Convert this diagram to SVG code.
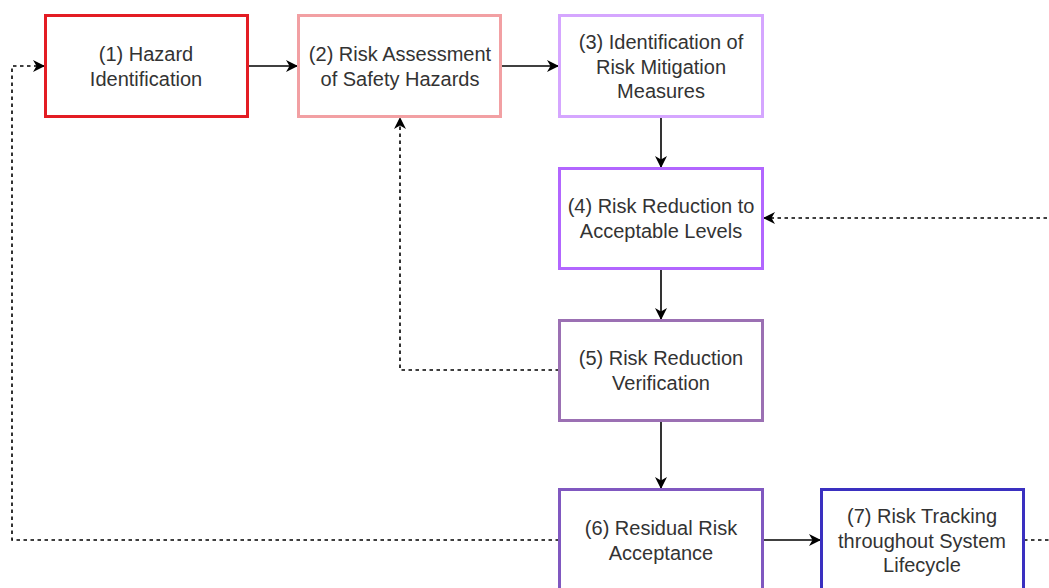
<svg xmlns="http://www.w3.org/2000/svg" width="1049" height="588" viewBox="0 0 1049 588">
<style>
.box{fill:#fff;stroke-width:3}
.t{font-family:"Liberation Sans",Arial,sans-serif;font-size:20px;fill:#333;text-anchor:middle}
.c{fill:none;stroke:#000;stroke-width:1.6}
.d{stroke-dasharray:3.5 3.5}
</style>
<defs>
<marker id="ah" viewBox="0 0 12 12" refX="11" refY="6" markerWidth="12" markerHeight="12" markerUnits="userSpaceOnUse" orient="auto">
<path d="M0,0 L12,6 L0,12 L3.5,6 Z" fill="#000"/>
</marker>
</defs>
<rect width="1049" height="588" fill="#fff"/>
<g id="connectors">
<path class="c" d="M248,66 H297" marker-end="url(#ah)"/>
<path class="c" d="M501,66 H558" marker-end="url(#ah)"/>
<path class="c" d="M661,117 V167" marker-end="url(#ah)"/>
<path class="c" d="M661,269 V319" marker-end="url(#ah)"/>
<path class="c" d="M661,421 V488" marker-end="url(#ah)"/>
<path class="c" d="M763,540 H820" marker-end="url(#ah)"/>
<path class="c d" d="M559,370 H400 V118" marker-end="url(#ah)"/>
<path class="c d" d="M559,540 H12 V66 H44" marker-end="url(#ah)"/>
<path class="c d" d="M1024,540 H1060 V218 H764" marker-end="url(#ah)"/>
</g>
<g id="n1"><rect class="box" x="45.5" y="15.5" width="202" height="101" stroke="#e31c23"/>
<text class="t" x="146" y="61">(1) Hazard</text><text class="t" x="146" y="86">Identification</text></g>
<g id="n2"><rect class="box" x="298.5" y="15.5" width="202" height="101" stroke="#f2a0a3"/>
<text class="t" x="400" y="61">(2) Risk Assessment</text><text class="t" x="400" y="86">of Safety Hazards</text></g>
<g id="n3"><rect class="box" x="559.5" y="15.5" width="203" height="101" stroke="#d5a6ff"/>
<text class="t" x="661" y="49">(3) Identification of</text><text class="t" x="661" y="73.5">Risk Mitigation</text><text class="t" x="661" y="98">Measures</text></g>
<g id="n4"><rect class="box" x="559.5" y="168.5" width="203" height="100" stroke="#b266ff"/>
<text class="t" x="661" y="213">(4) Risk Reduction to</text><text class="t" x="661" y="237.5">Acceptable Levels</text></g>
<g id="n5"><rect class="box" x="559.5" y="320.5" width="203" height="100" stroke="#9b70b3"/>
<text class="t" x="661" y="365">(5) Risk Reduction</text><text class="t" x="661" y="389.5">Verification</text></g>
<g id="n6"><rect class="box" x="559.5" y="489.5" width="203" height="101" stroke="#8058c0"/>
<text class="t" x="661" y="535">(6) Residual Risk</text><text class="t" x="661" y="559.5">Acceptance</text></g>
<g id="n7"><rect class="box" x="821.5" y="489.5" width="202" height="101" stroke="#3a30c0"/>
<text class="t" x="922" y="523">(7) Risk Tracking</text><text class="t" x="922" y="547.5">throughout System</text><text class="t" x="922" y="572">Lifecycle</text></g>
</svg>
